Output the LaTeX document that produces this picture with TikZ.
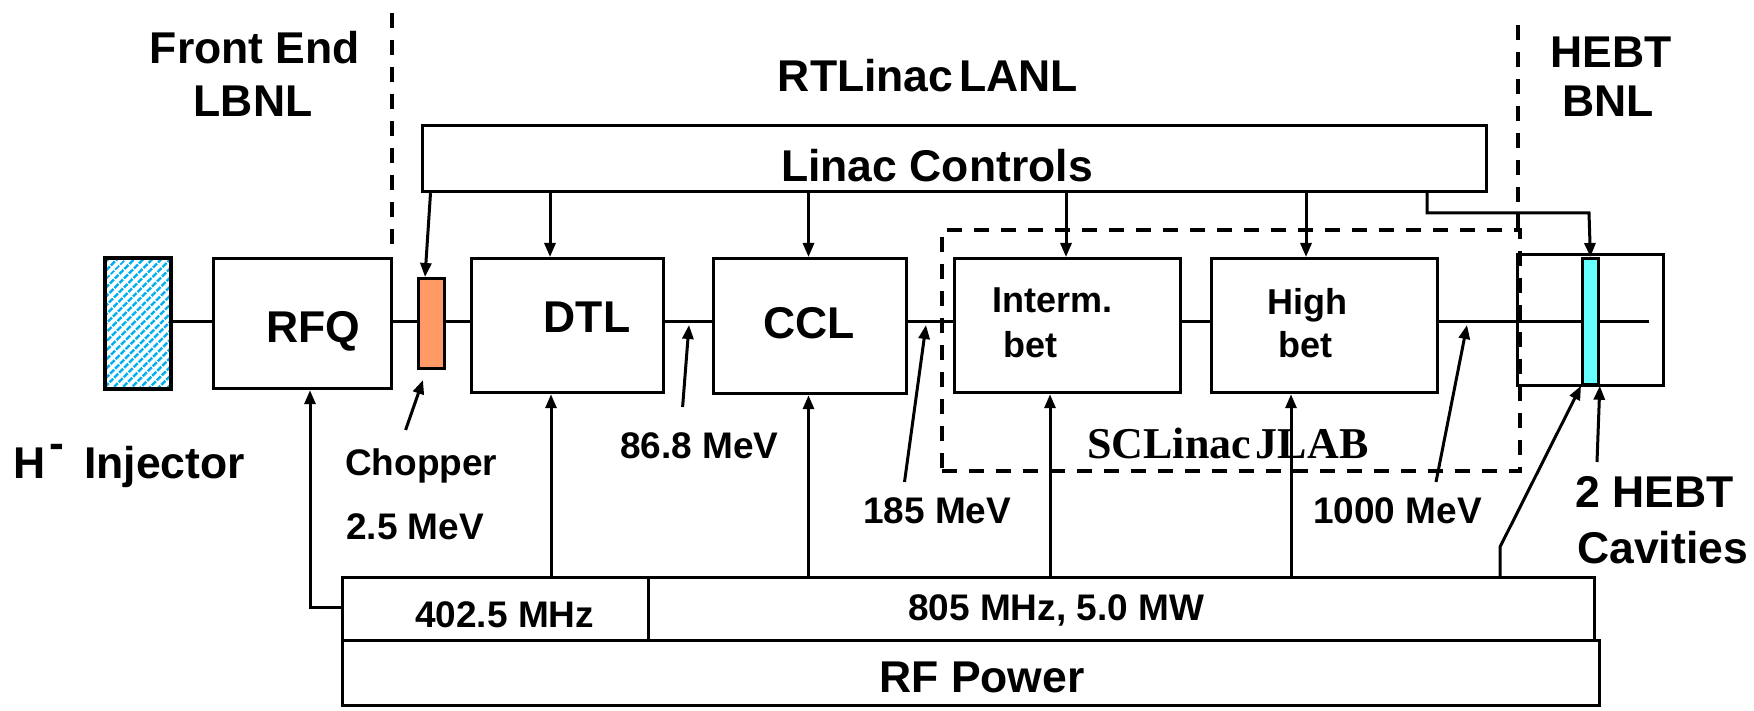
\documentclass[tikz,border=0pt]{standalone}
\usepackage{fontspec}
\setmainfont{Liberation Sans}
\newfontfamily\serifb{Liberation Serif}
\usetikzlibrary{arrows.meta,patterns.meta}
\definecolor{chop}{RGB}{255,153,102}
\definecolor{cav}{RGB}{102,255,255}
\definecolor{hatch}{RGB}{0,174,239}
\tikzset{
 blk/.style={draw, line width=3.2pt, inner sep=0pt, anchor=north west},
 arr/.style={line width=3pt, -{Triangle[length=14pt,width=11pt]}},
 ln/.style={line width=3pt},
 dsh/.style={line width=4pt, dash pattern=on 15pt off 12pt},
 tL/.style={font=\fontsize{44.5}{50}\selectfont\bfseries, inner sep=0pt},
 tM/.style={font=\fontsize{37}{40}\selectfont\bfseries, inner sep=0pt},
 tS/.style={font=\fontsize{36}{40}\selectfont\bfseries, inner sep=0pt},
 tT/.style={font=\serifb\bfseries\fontsize{44}{48}\selectfont, inner sep=0pt},
}
\begin{document}
\begin{tikzpicture}[x=1pt,y=-1pt]
\useasboundingbox (0,0) rectangle (1754,711);
\coordinate (bl) at (0,322);
% dashed region markers
\draw[dsh] (391.5,13) -- (391.5,253);
\draw[dsh] (1518,25) -- (1518,228);
\node[blk, dsh, minimum width=578pt, minimum height=241pt] (scl) at (940,228) {};
% boxes
\node[blk, minimum width=1064pt, minimum height=66pt] (lc) at (421,124) {};
\node[blk, line width=4pt, minimum width=66pt, minimum height=130pt, pattern={Lines[angle=45,distance=6.5pt,line width=3pt]}, pattern color=hatch] (inj) at (103,257) {};
\node[blk, minimum width=178pt, minimum height=130pt] (rfq) at (212,257) {};
\node[blk, fill=chop, minimum width=26pt, minimum height=90pt] (chop) at (417,277) {};
\node[blk, minimum width=192pt, minimum height=134pt] (dtl) at (470,257) {};
\node[blk, minimum width=193pt, minimum height=135pt] (ccl) at (712,257) {};
\node[blk, minimum width=226pt, minimum height=134pt] (int) at (953,257) {};
\node[blk, minimum width=226pt, minimum height=134pt] (high) at (1210,257) {};
\node[blk, minimum width=145.5pt, minimum height=131pt] (hebt) at (1516,253) {};
\node[blk, minimum width=306.4pt, minimum height=63pt] (rfa) at (340.6,576) {};
\node[blk, minimum width=946pt, minimum height=63pt] (rfb) at (647,576) {};
\node[blk, minimum width=1257pt, minimum height=65pt] (rfp) at (340.6,639) {};
% beam line
\coordinate (bend) at (1649,322);
\draw[ln] (inj.east |- bl) -- (rfq.west |- bl);
\draw[ln] (rfq.east |- bl) -- (chop.west |- bl);
\draw[ln] (chop.east |- bl) -- (dtl.west |- bl);
\draw[ln] (dtl.east |- bl) -- (ccl.west |- bl);
\draw[ln] (ccl.east |- bl) -- (int.west |- bl);
\draw[ln] (int.east |- bl) -- (high.west |- bl);
\draw[ln] (high.east |- bl) -- (bend);
\node[blk, fill=cav, line width=2.8pt, minimum width=16pt, minimum height=126pt] (cav) at (1581,257) {};
% control arrows
\draw[arr] (430.5,0 |- lc.south) -- (425,0 |- chop.north);
\draw[arr] (550,0 |- lc.south) -- (550,0 |- dtl.north);
\draw[arr] (808.5,0 |- lc.south) -- (808.5,0 |- ccl.north);
\draw[arr] (1066,0 |- lc.south) -- (1066,0 |- int.north);
\draw[arr] (1306,0 |- lc.south) -- (1306,0 |- high.north);
\draw[arr] (1427,0 |- lc.south) -- (1427,213) -- (1589,213) -- (cav.north);
% RF arrows
\draw[arr] (rfa.west |- 0,607) -- (310,607) -- (310,0 |- rfq.south);
\draw[arr] (551,0 |- rfa.north) -- (551,0 |- dtl.south);
\draw[arr] (808.5,0 |- rfb.north) -- (808.5,0 |- ccl.south);
\draw[arr] (1050,0 |- rfb.north) -- (1050,0 |- int.south);
\draw[arr] (1291,0 |- rfb.north) -- (1291,0 |- high.south);
\draw[arr] (1500,0 |- rfb.north) -- (1500,547) -- (cav.south west);
% label arrows
\coordinate (c1) at (405.6,430);
\coordinate (c2) at (423,380);
\draw[arr] (c1) -- (c2);
\coordinate (e1) at (682.6,407);
\coordinate (e1t) at (689,325);
\draw[arr] (e1) -- (e1t);
\coordinate (e2) at (904.5,482);
\coordinate (e2t) at (926,325);
\draw[arr] (e2) -- (e2t);
\coordinate (e3) at (1436,482);
\coordinate (e3t) at (1467,325);
\draw[arr] (e3) -- (e3t);
\coordinate (h1) at (1597,462);
\draw[arr] (h1) -- (cav.south east);
% texts
\node[tL, anchor=base] (tfe) at (255,64) {Front End};
\node[tL, anchor=base] (tlb) at (253,117) {LBNL};
\node[tL, anchor=base] (trt) at (928,92) {RTLinac\hspace{6pt}LANL};
\node[tL, anchor=base] (the) at (1611,68) {HEBT};
\node[tL, anchor=base] (tbn) at (1608,117) {BNL};
\node[tL, anchor=base] (tlc) at (937,182) {Linac Controls};
\node[tL, anchor=base] (trfq) at (313,343) {RFQ};
\node[tL, anchor=base] (tdtl) at (587,333) {DTL};
\node[tL, anchor=base] (tccl) at (809,338) {CCL};
\node[tS, anchor=base west] (tint) at (992,313) {Interm.};
\node[tS, anchor=base west] (tintb) at (1003,357) {bet};
\node[tS, anchor=base] (thi) at (1307,315) {High};
\node[tS, anchor=base] (thib) at (1305,357) {bet};
\node[tT, anchor=base west] (tscl) at (1087,458) {SCLinac\hspace{5pt}JLAB};
\node[tL, anchor=base west] (tinj) at (13,478) {H\hspace{4pt}\raisebox{20pt}{-}\hspace{20pt}Injector};
\node[tM, anchor=base west] (tch) at (345,475) {Chopper};
\node[tM, anchor=base west] (tch2) at (346,539) {2.5 MeV};
\node[tM, anchor=base west] (t868) at (620,458) {86.8 MeV};
\node[tM, anchor=base west] (t185) at (863,523) {185 MeV};
\node[tM, anchor=base west] (t1000) at (1313,523) {1000 MeV};
\node[tL, anchor=base west] (thc) at (1575,507) {2 HEBT};
\node[tL, anchor=base west] (thc2) at (1577,563) {Cavities};
\node[tM, anchor=base west] (t402) at (415,627) {402.5 MHz};
\node[tM, anchor=base west] (t805) at (908,620) {805 MHz, 5.0 MW};
\node[tL, anchor=base] (trf) at (982,692) {RF Power};
\end{tikzpicture}
\end{document}
